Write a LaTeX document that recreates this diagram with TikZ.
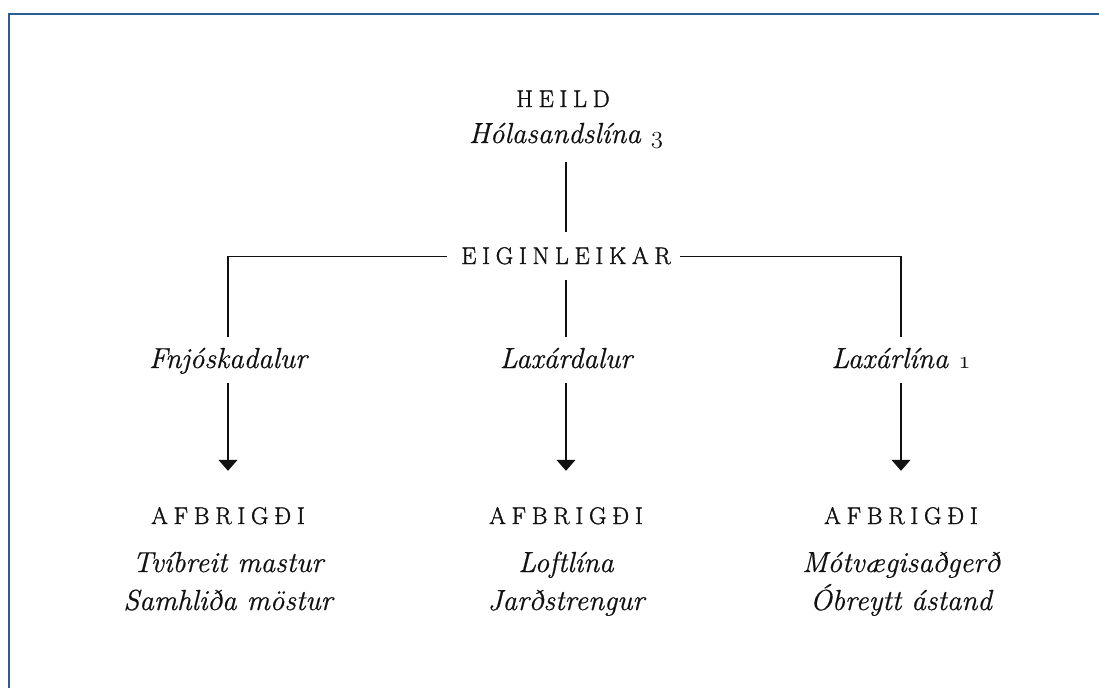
\documentclass[tikz,border=0pt]{standalone}
\usepackage{fontspec}
\setmainfont{Latin Modern Roman}[ItalicFeatures={FakeBold=0.6}]
\newfontfamily\capsfont[LetterSpace=24,FakeBold=1.4]{Latin Modern Roman}
\newcommand{\osnum}[1]{{\fontsize{33}{34}\usefont{OML}{cmm}{m}{it}#1}}
\usetikzlibrary{arrows.meta}
\definecolor{frameblue}{HTML}{2C5C94}
\definecolor{ink}{HTML}{111111}
\begin{document}
\begin{tikzpicture}[x=1pt,y=-1pt,
  capnode/.style={font=\capsfont\fontsize{24}{28}\selectfont, inner sep=0pt, text height=15pt, text depth=0pt, anchor=base, text=ink},
  itnode/.style={font=\fontsize{29}{34}\selectfont\itshape, inner sep=0pt, text height=21pt, text depth=6pt, anchor=base, text=ink},
  link/.style={draw=ink, line width=1.1pt},
  arrowlink/.style={link, -{Triangle[width=19pt,length=11pt]}}
]
\useasboundingbox (0,0) rectangle (1099,688);
\draw[frameblue, line width=2pt] (9,688) -- (9,14) -- (1099,14);

\node[capnode] (heild) at (563,107) {HEILD};
\node[itnode] (hola) at (566,143) {Hólasandslína \osnum{3}};
\node[capnode] (eig) at (566,264) {EIGINLEIKAR};

\node[itnode] (fnj) at (228,368) {Fnjóskadalur};
\node[itnode] (lax) at (566,368) {Laxárdalur};
\node[itnode] (laxl) at (901,368) {Laxárlína \osnum{1}};

\node[capnode] (a1) at (228,524) {AFBRIGÐI};
\node[capnode] (a2) at (566,524) {AFBRIGÐI};
\node[capnode] (a3) at (901,524) {AFBRIGÐI};

\node[itnode] (v11) at (228,572) {Tvíbreit mastur};
\node[itnode] (v12) at (228,610) {Samhliða möstur};
\node[itnode] (v21) at (566,572) {Loftlína};
\node[itnode] (v22) at (566,610) {Jarðstrengur};
\node[itnode] (v31) at (901,572) {Mótvægisaðgerð};
\node[itnode] (v32) at (901,610) {Óbreytt ástand};

\draw[link, shorten <=13pt, shorten >=17pt] (hola.south) -- (eig.north);
\draw[link, shorten <=14pt, shorten >=10pt] (eig.west) -| (fnj.north);
\draw[link, shorten <=9pt, shorten >=10pt] (eig.east) -| (laxl.north);
\draw[link, shorten <=16pt, shorten >=10pt] (eig.south) -- (lax.north);

\draw[arrowlink, shorten <=9pt, shorten >=38pt] (fnj.south) -- (a1.north);
\draw[arrowlink, shorten <=9pt, shorten >=38pt] (lax.south) -- (a2.north);
\draw[arrowlink, shorten <=9pt, shorten >=38pt] (laxl.south) -- (a3.north);
\end{tikzpicture}
\end{document}
